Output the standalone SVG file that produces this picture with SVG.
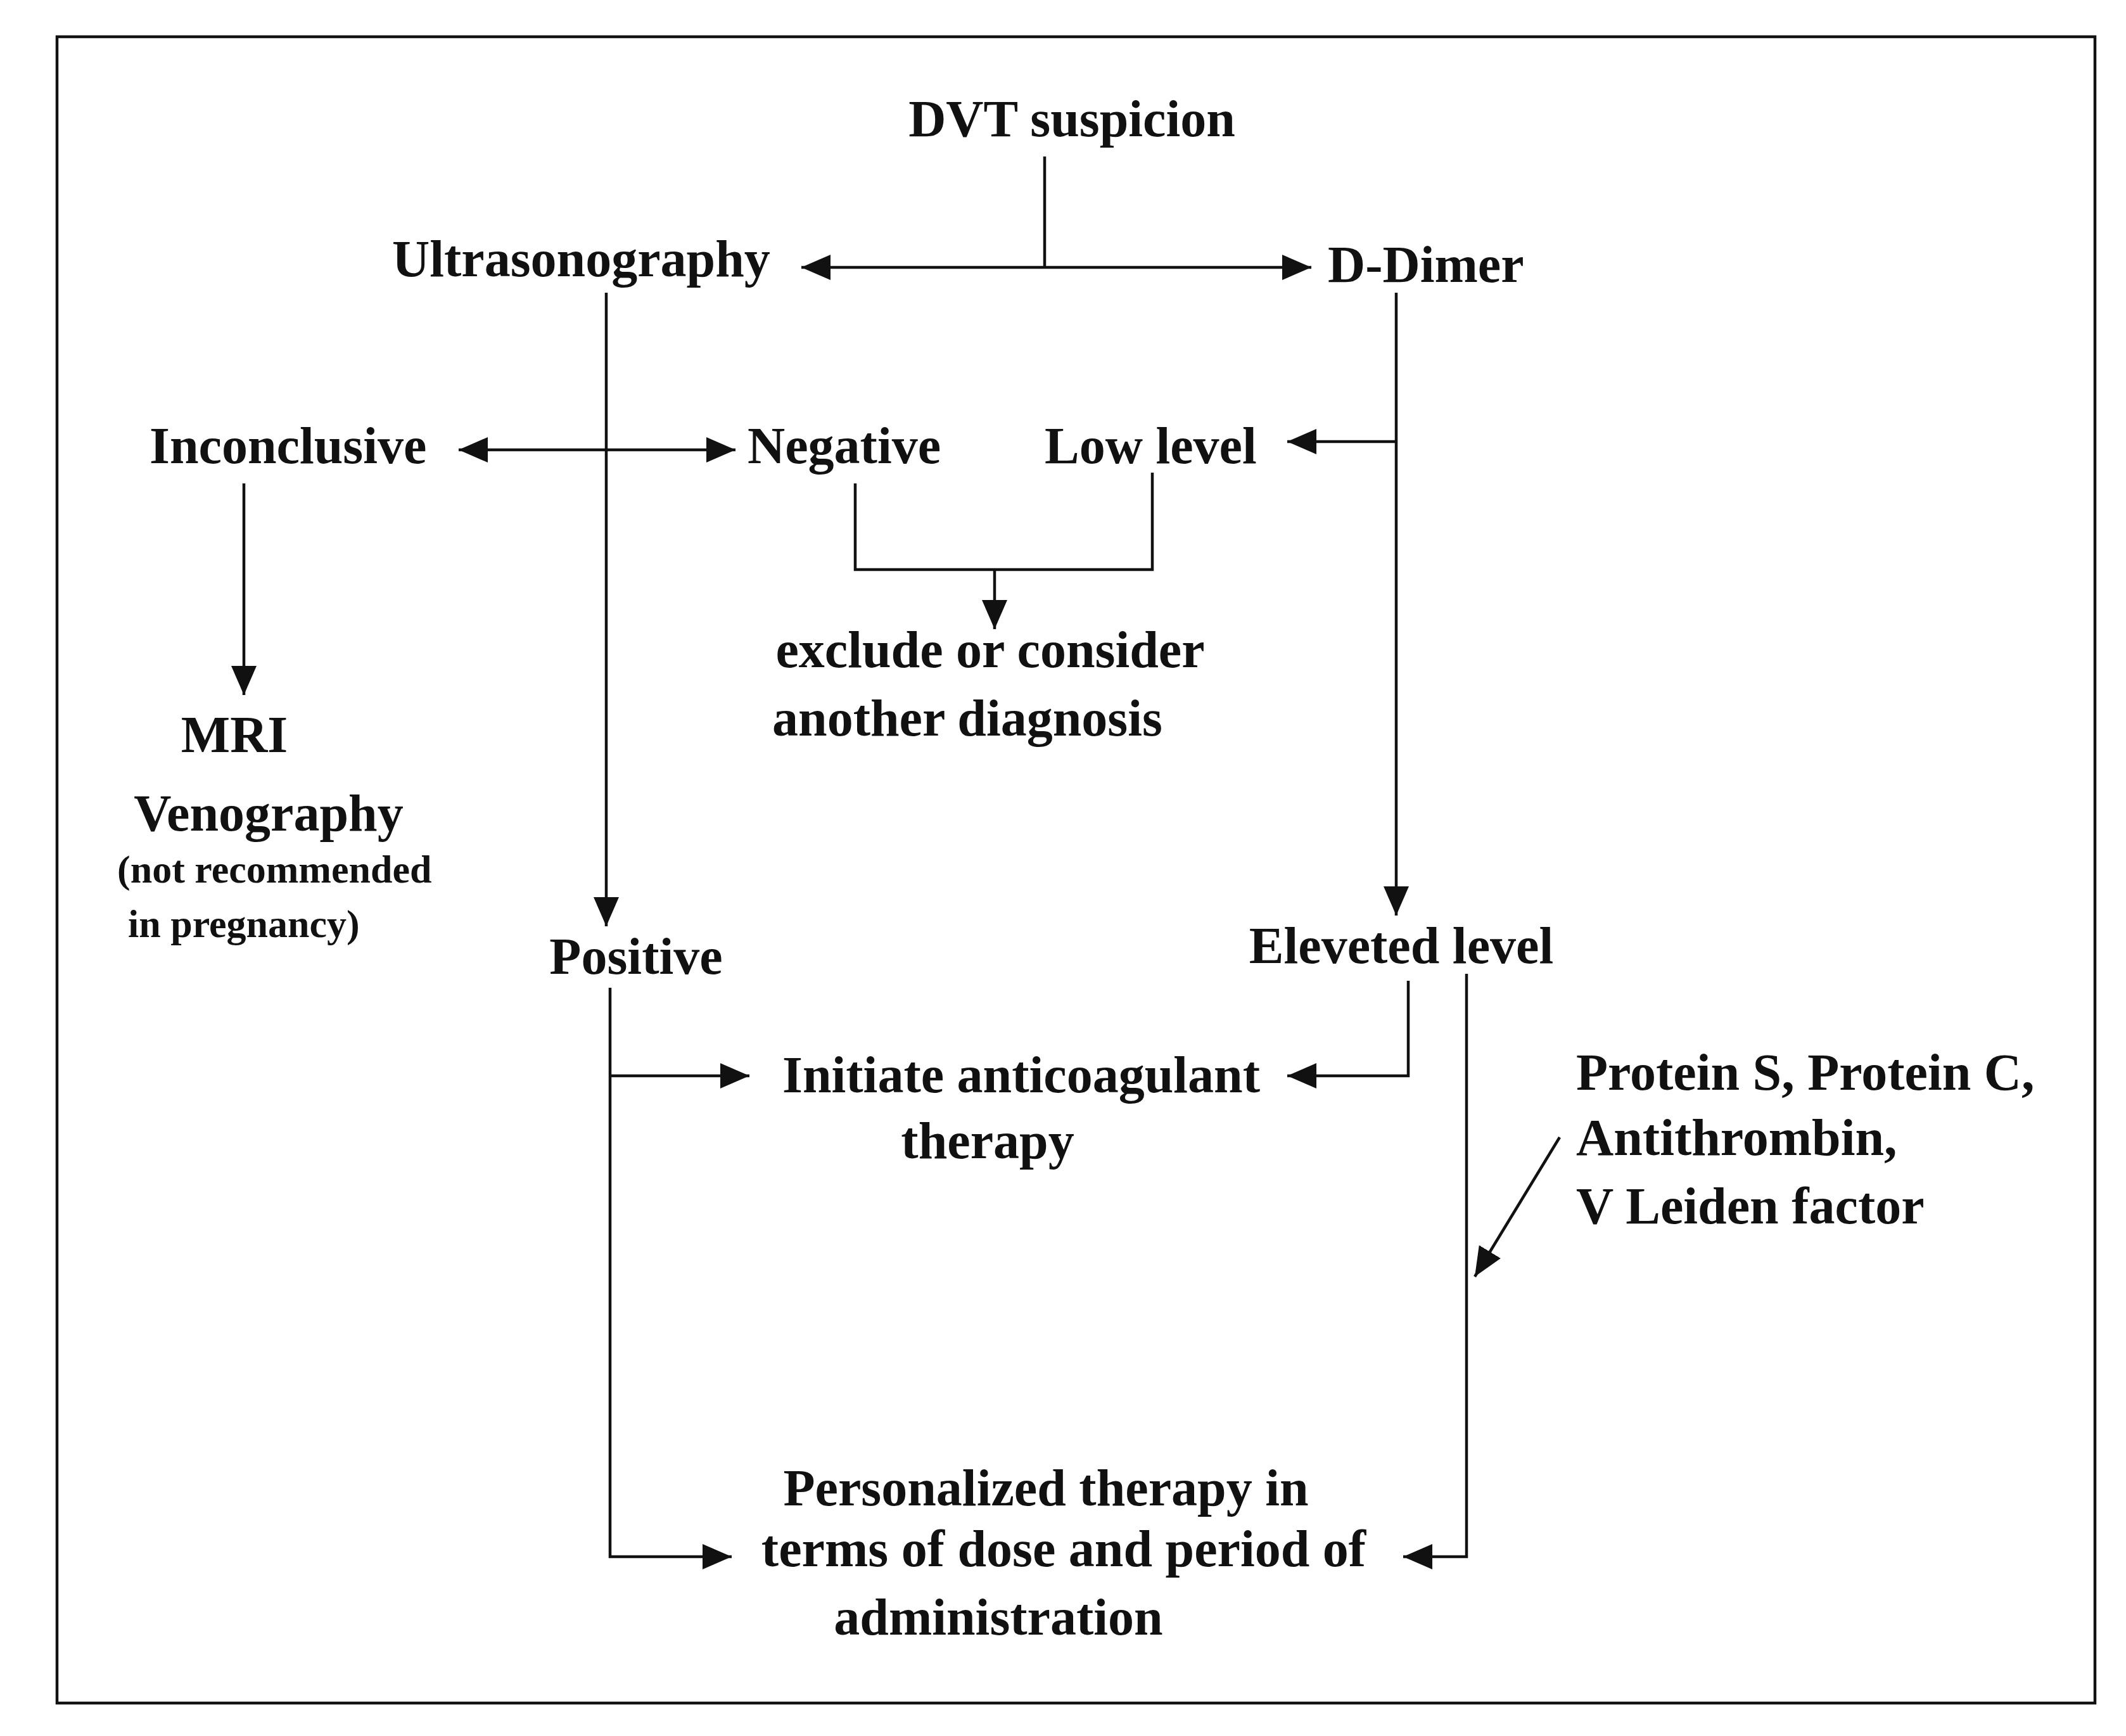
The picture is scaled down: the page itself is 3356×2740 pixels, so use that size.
<svg xmlns="http://www.w3.org/2000/svg" width="3356" height="2740" viewBox="0 0 3356 2740">
<style>
text{font-family:"Liberation Serif","Times New Roman",serif;font-weight:bold;font-size:82px;fill:#111}
.s{font-size:62px}
.l{fill:none;stroke:#111;stroke-width:4.5}
</style>
<defs>
<marker id="a" markerUnits="userSpaceOnUse" markerWidth="50" markerHeight="44" refX="46" refY="22" orient="auto"><path d="M0,2 L46,22 L0,42 Z" fill="#111"/></marker>
<marker id="b" markerUnits="userSpaceOnUse" markerWidth="50" markerHeight="44" refX="46" refY="22" orient="auto-start-reverse"><path d="M0,2 L46,22 L0,42 Z" fill="#111"/></marker>
</defs>
<rect width="3356" height="2740" fill="#fff"/>
<rect x="90" y="58" width="3217" height="2630" fill="none" stroke="#111" stroke-width="4.5"/>
<g id="connectors">
<path class="l" d="M1649,247 V422"/>
<path class="l" d="M1265,422 H2070" marker-start="url(#b)" marker-end="url(#a)"/>
<path class="l" d="M957,462 V1462" marker-end="url(#a)"/>
<path class="l" d="M2204,462 V1445" marker-end="url(#a)"/>
<path class="l" d="M2204,697 H2032" marker-end="url(#a)"/>
<path class="l" d="M724,710 H1161" marker-start="url(#b)" marker-end="url(#a)"/>
<path class="l" d="M1350,763 V899 H1819 V746"/>
<path class="l" d="M1570,899 V993" marker-end="url(#a)"/>
<path class="l" d="M385,763 V1097" marker-end="url(#a)"/>
<path class="l" d="M963,1559 V2457 H1155" marker-end="url(#a)"/>
<path class="l" d="M963,1698 H1183" marker-end="url(#a)"/>
<path class="l" d="M2223,1548 V1698 H2032" marker-end="url(#a)"/>
<path class="l" d="M2315,1537 V2457 H2215" marker-end="url(#a)"/>
<path class="l" d="M2462,1795 L2328,2015" marker-end="url(#a)"/>
</g>
<g id="dvt"><text x="1692" y="215" text-anchor="middle">DVT suspicion</text></g>
<g id="us"><text x="619" y="436">Ultrasonography</text></g>
<g id="dd"><text x="2096" y="445">D-Dimer</text></g>
<g id="inc"><text x="236" y="731">Inconclusive</text></g>
<g id="neg"><text x="1180" y="731">Negative</text></g>
<g id="low"><text x="1649" y="731">Low level</text></g>
<g id="excl"><text x="1563" y="1053" text-anchor="middle">exclude or consider</text><text x="1527" y="1161" text-anchor="middle">another diagnosis</text></g>
<g id="mri"><text x="370" y="1187" text-anchor="middle">MRI</text></g>
<g id="ven"><text x="424" y="1311" text-anchor="middle">Venography</text><text class="s" x="185" y="1393">(not recommended</text><text class="s" x="202" y="1479">in pregnancy)</text></g>
<g id="pos"><text x="1004" y="1537" text-anchor="middle">Positive</text></g>
<g id="elev"><text x="2212" y="1520" text-anchor="middle">Eleveted level</text></g>
<g id="init"><text x="1612" y="1724" text-anchor="middle">Initiate anticoagulant</text><text x="1559" y="1828" text-anchor="middle">therapy</text></g>
<g id="prot"><text x="2488" y="1720">Protein S, Protein C,</text><text x="2488" y="1823">Antithrombin,</text><text x="2488" y="1931">V Leiden factor</text></g>
<g id="pers"><text x="1651" y="2376" text-anchor="middle">Personalized therapy in</text><text x="1679" y="2472" text-anchor="middle">terms of dose and period of</text><text x="1576" y="2580" text-anchor="middle">administration</text></g>
</svg>
